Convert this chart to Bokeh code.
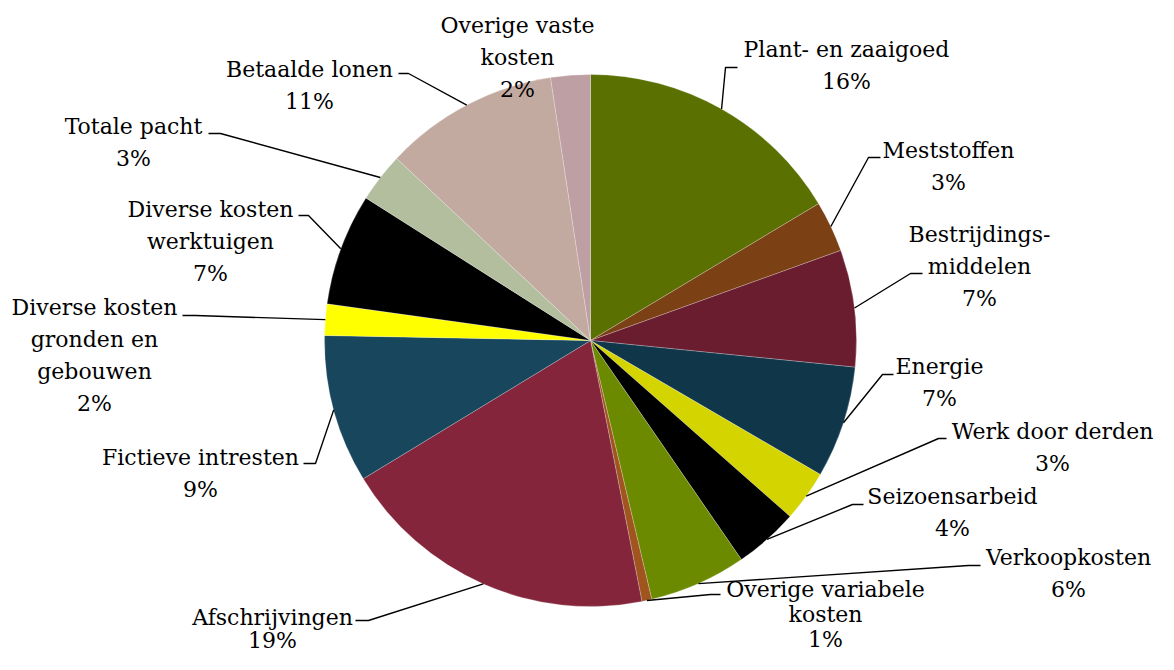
import numpy as np
from bokeh.plotting import figure
from bokeh.models import Range1d, ColumnDataSource
from bokeh.core.properties import value
from bokeh.embed import file_html
from bokeh.resources import INLINE

# ---- data ----
categories = [
    "Plant- en zaaigoed", "Meststoffen", "Bestrijdingsmiddelen", "Energie",
    "Werk door derden", "Seizoensarbeid", "Verkoopkosten", "Overige variabele kosten",
    "Afschrijvingen", "Fictieve intresten", "Diverse kosten gronden en gebouwen",
    "Diverse kosten werktuigen", "Totale pacht", "Betaalde lonen", "Overige vaste kosten",
]
label_text = [
    "Plant- en zaaigoed", "Meststoffen", "Bestrijdings-\nmiddelen", "Energie",
    "Werk door derden", "Seizoensarbeid", "Verkoopkosten", "Overige variabele\nkosten",
    "Afschrijvingen", "Fictieve intresten", "Diverse kosten\ngronden en\ngebouwen",
    "Diverse kosten\nwerktuigen", "Totale pacht", "Betaalde lonen", "Overige vaste\nkosten",
]
values = [16.4, 3.1, 7.1, 6.8, 3.1, 3.9, 5.9, 0.6, 19.4, 9.0, 1.9, 6.8, 3.0, 10.6, 2.4]
colors = [
    "#5A7000", "#7B4014", "#6B1D30", "#10364A", "#D4D400", "#000000", "#6B8A00",
    "#A0541E", "#84253B", "#17465D", "#FFFF00", "#000000", "#B3BE9F", "#C3AAA1", "#BE9FA3",
]

# ---- layout (image pixel coordinates, y downward) ----
IMG_H = 670
W, H = 1158, 654
CX, CY, R = 590, 340, 266
FONT = "DejaVu Serif"
FONT_SIZE = "22px"
label_cx = [846, 948, 979, 939, 1052, 952, 1068, 825, 272, 200, 94, 210, 133, 309, 517]
label_y0 = [49, 150, 234, 366, 431, 496, 557, 589, 617, 457, 307, 209, 126, 69, 25]
label_dy = [32, 32, 32, 32, 32, 32, 32, 25, 23, 32, 32, 32, 32, 32, 32]
leader_pts = [
    [(725, 67), (737, 67)],
    [(868, 157), (880, 157)],
    [(910, 273), (922, 273)],
    [(882, 374), (893, 374)],
    [(938, 438), (946, 438)],
    [(852, 504), (863, 504)],
    [(968, 565), (980, 565)],
    [(710, 594), (720, 594)],
    [(368, 620), (355, 620)],
    [(315, 463), (303, 463)],
    [(195, 315), (182, 315)],
    [(308, 215), (298, 215)],
    [(220, 133), (208, 133)],
    [(408, 73), (398, 73)],
    None,
]


def Y(y_img):
    return IMG_H - y_img


p = figure(width=W, height=H, x_range=Range1d(0, W), y_range=Range1d(IMG_H - H, IMG_H),
           output_backend="svg", toolbar_location=None, min_border=0)
p.axis.visible = False
p.grid.visible = False
p.outline_line_color = None
p.background_fill_color = "white"

vals = np.array(values, dtype=float)
frac = vals / vals.sum()
cum = np.concatenate([[0.0], np.cumsum(frac)])
start = np.pi / 2 - cum[:-1] * 2 * np.pi
end = np.pi / 2 - cum[1:] * 2 * np.pi
mid = (start + end) / 2

src = ColumnDataSource(dict(start=start, end=end, color=colors, cat=categories))
p.wedge(x=CX, y=Y(CY), radius=R, start_angle="start", end_angle="end", direction="clock",
        fill_color="color", line_color="white", line_width=0.6, line_alpha=0.4, source=src)

# leader lines
xs, ys = [], []
for i, pts in enumerate(leader_pts):
    if pts is None:
        continue
    sx = CX + R * np.cos(mid[i])
    sy = Y(CY) + R * np.sin(mid[i])
    xs.append([sx] + [q[0] for q in pts])
    ys.append([sy] + [Y(q[1]) for q in pts])
p.multi_line(xs=xs, ys=ys, line_color="black", line_width=1.4)

# labels
tx, ty, tt = [], [], []
for i, lab in enumerate(label_text):
    pct = f"{int(round(frac[i] * 100))}%"
    lines = lab.split("\n") + [pct]
    for j, ln in enumerate(lines):
        tx.append(label_cx[i])
        ty.append(Y(label_y0[i] + label_dy[i] * j))
        tt.append(ln)
p.text(x=tx, y=ty, text=tt, text_align="center", text_baseline="middle",
       text_font=value(FONT), text_font_size=FONT_SIZE, text_color="black")

open("out.html", "w").write(file_html(p, INLINE))
